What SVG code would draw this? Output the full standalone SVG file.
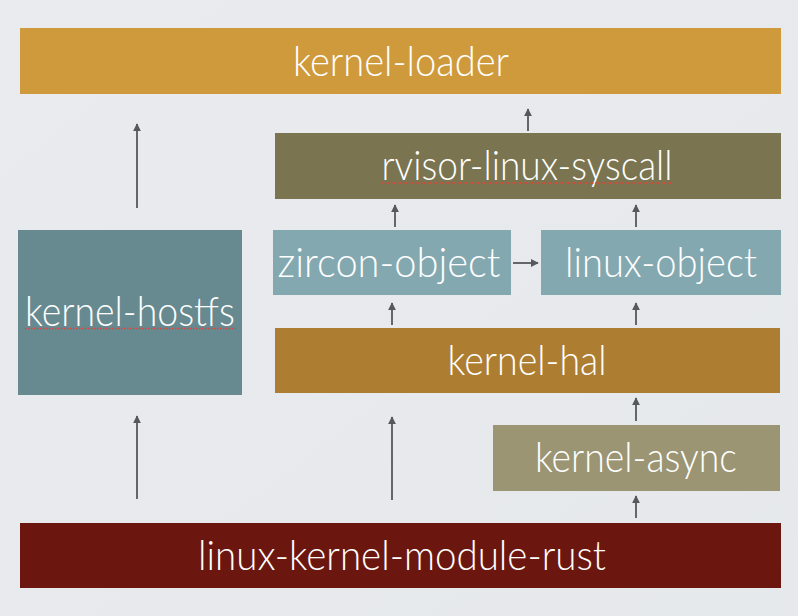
<svg xmlns="http://www.w3.org/2000/svg" width="798" height="616" viewBox="0 0 798 616">
<defs>
<linearGradient id="bg" x1="0" y1="0" x2="1" y2="1">
<stop offset="0" stop-color="#e9ebee"/>
<stop offset="1" stop-color="#e6e9ec"/>
</linearGradient>
<marker id="ah" viewBox="0 0 10 10" refX="9" refY="5" markerWidth="4.5" markerHeight="4.5" orient="auto" markerUnits="strokeWidth">
<path d="M0,0 L10,5 L0,10 z" fill="#55595c"/>
</marker>
</defs>
<style>
.lbl{font-family:Lato,"Open Sans","Liberation Sans",sans-serif;font-weight:300;font-size:42px;fill:#ffffff;text-anchor:middle}
.cn{stroke:#55595c;stroke-width:1.8;fill:none;marker-end:url(#ah)}
.sq{stroke:#e0433a;stroke-width:1.5;stroke-dasharray:1.5 1.5;fill:none}
</style>
<rect x="0" y="0" width="798" height="616" fill="url(#bg)"/>
<g id="connectors">
<line class="cn" x1="528" y1="131" x2="528" y2="109"/>
<line class="cn" x1="137" y1="208" x2="137" y2="124"/>
<line class="cn" x1="395" y1="227" x2="395" y2="205"/>
<line class="cn" x1="636" y1="227" x2="636" y2="205"/>
<line class="cn" x1="513" y1="263" x2="538" y2="263"/>
<line class="cn" x1="392" y1="325" x2="392" y2="303"/>
<line class="cn" x1="636" y1="325" x2="636" y2="303"/>
<line class="cn" x1="636" y1="421" x2="636" y2="398"/>
<line class="cn" x1="636" y1="518" x2="636" y2="496"/>
<line class="cn" x1="137" y1="499" x2="137" y2="416"/>
<line class="cn" x1="392" y1="500" x2="392" y2="417"/>
</g>
<g id="kernel-loader">
<rect x="20" y="28" width="761" height="66" fill="#cf9a3c"/>
<text class="lbl" x="401" y="76" textLength="216" lengthAdjust="spacingAndGlyphs">kernel-loader</text>
</g>
<g id="rvisor-linux-syscall">
<rect x="275" y="133" width="506" height="66" fill="#7a7550"/>
<text class="lbl" x="527" y="180" textLength="291" lengthAdjust="spacingAndGlyphs">rvisor-linux-syscall</text>
<line class="sq" x1="382" y1="183" x2="672" y2="183"/>
</g>
<g id="zircon-object">
<rect x="273" y="230" width="238" height="65" fill="#83a8b0"/>
<text class="lbl" x="389" y="277" textLength="223" lengthAdjust="spacingAndGlyphs">zircon-object</text>
</g>
<g id="linux-object">
<rect x="541" y="230" width="240" height="65" fill="#83a8b0"/>
<text class="lbl" x="661" y="277" textLength="192" lengthAdjust="spacingAndGlyphs">linux-object</text>
</g>
<g id="kernel-hostfs">
<rect x="18" y="230" width="224" height="165" fill="#678a91"/>
<text class="lbl" x="130" y="326" textLength="210" lengthAdjust="spacingAndGlyphs">kernel-hostfs</text>
<line class="sq" x1="25" y1="328.5" x2="236" y2="328.5"/>
</g>
<g id="kernel-hal">
<rect x="275" y="328" width="505" height="65" fill="#ad7e31"/>
<text class="lbl" x="527" y="375" textLength="159" lengthAdjust="spacingAndGlyphs">kernel-hal</text>
</g>
<g id="kernel-async">
<rect x="493" y="425" width="287" height="66" fill="#9b9574"/>
<text class="lbl" x="636" y="472" textLength="202" lengthAdjust="spacingAndGlyphs">kernel-async</text>
</g>
<g id="linux-kernel-module-rust">
<rect x="20" y="523" width="761" height="65" fill="#6b170f"/>
<text class="lbl" x="402" y="570" textLength="408" lengthAdjust="spacingAndGlyphs">linux-kernel-module-rust</text>
</g>
</svg>
